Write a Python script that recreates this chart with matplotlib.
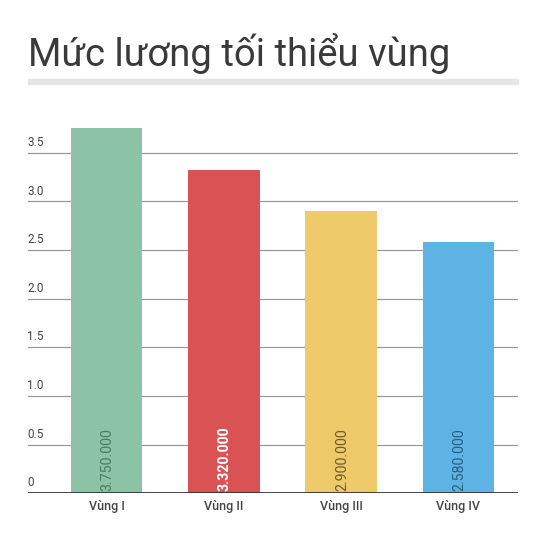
import matplotlib
matplotlib.use("Agg")
import matplotlib.pyplot as plt
from matplotlib.patches import Rectangle

categories = ["Vùng I", "Vùng II", "Vùng III", "Vùng IV"]
values = [3.75, 3.32, 2.90, 2.58]
value_labels = ["3.750.000", "3.320.000", "2.900.000", "2.580.000"]
yticks = [0, 0.5, 1.0, 1.5, 2.0, 2.5, 3.0, 3.5]
ytick_labels = ["0", "0.5", "1.0", "1.5", "2.0", "2.5", "3.0", "3.5"]
title = "Mức lương tối thiểu vùng"

bar_colors = ["#8cc3a6", "#d95355", "#efca6a", "#5db3e4"]
label_colors = ["#4d7a62", "#ffffff", "#6e5a2c", "#2b5f82"]
label_weights = ["normal", "bold", "normal", "normal"]

W, H, DPI = 544, 543, 100
fig = plt.figure(figsize=(W / DPI, H / DPI), dpi=DPI)
fig.patch.set_facecolor("white")

left_px, right_px = 27.5, 518
base_px = 493.3
unit_px = 97.3
ytop = 4.0
ax = fig.add_axes([left_px / W, (H - base_px) / H,
                   (right_px - left_px) / W, ytop * unit_px / H])

x = list(range(len(categories)))
ax.set_xlim(-0.674, 3.508)
ax.set_ylim(0, ytop)

for yv in yticks[1:]:
    ax.axhline(yv, color="#9a9a9a", lw=0.9, zorder=1)

bars = ax.bar(x, values, width=0.61, color=bar_colors, zorder=2)

for xi, lbl, c, w in zip(x, value_labels, label_colors, label_weights):
    ax.text(xi + 0.01, 0.02, lbl, rotation=90, ha="center", va="bottom",
            color=c, fontsize=10.2, fontweight=w, family="Roboto", zorder=3)

trans = ax.get_yaxis_transform()
for yv, t in zip(yticks, ytick_labels):
    ax.text(0.0, yv + 0.04, t, transform=trans, ha="left", va="bottom",
            fontsize=8.5, color="#444444", family="Roboto")

ax.axhline(0, color="#333333", lw=2.0, zorder=4)

for s in ax.spines.values():
    s.set_visible(False)
ax.set_yticks([])
ax.set_xticks(x)
ax.set_xticklabels(categories, fontsize=9, color="#444444",
                   family="Roboto", fontweight="medium")
ax.tick_params(axis="x", length=0, pad=5)

# title and gray band
fig.text(28 / W, 1 - 65.7 / H, title, ha="left", va="baseline",
         fontsize=27.5, color="#3a3a3a", family="Roboto", fontweight="normal")
fig.patches.append(Rectangle((28 / W, 1 - 84 / H), (518 - 28) / W, 5 / H,
                             transform=fig.transFigure, color="#e6e6e6"))

fig.savefig("out.png", dpi=DPI, facecolor="white")
